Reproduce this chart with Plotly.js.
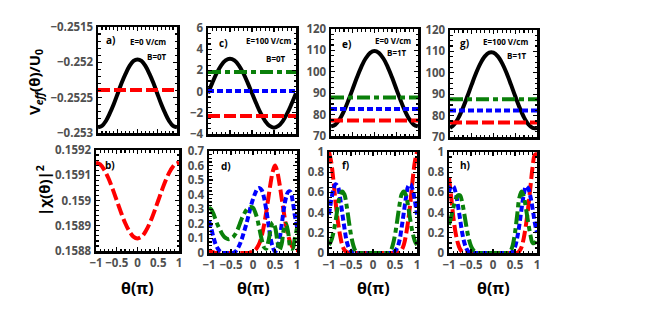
<!DOCTYPE html>
<html>
<head>
<meta charset="utf-8">
<script src="https://cdn.plot.ly/plotly-3.0.1.min.js"></script>
<style>html,body{margin:0;padding:0;background:#fff;}#chart{width:664px;height:311px;}</style>
</head>
<body>
<div id="chart"></div>
<script>
// ---------- DATA ----------
const theta10 = [-1,-0.9,-0.8,-0.7,-0.6,-0.5,-0.4,-0.3,-0.2,-0.1,0,0.1,0.2,0.3,0.4,0.5,0.6,0.7,0.8,0.9,1];
const theta05 = [-1,-0.95,-0.9,-0.85,-0.8,-0.75,-0.7,-0.65,-0.6,-0.55,-0.5,-0.45,-0.4,-0.35,-0.3,-0.25,-0.2,-0.15,-0.1,-0.05,0,0.05,0.1,0.15,0.2,0.25,0.3,0.35,0.4,0.45,0.5,0.55,0.6,0.65,0.7,0.75,0.8,0.85,0.9,0.95,1];
const thetaEnds = [-1, 1];

// a) E=0, B=0
const aPotential = [-0.25292,-0.25290,-0.25283,-0.25272,-0.25259,-0.25244,-0.25229,-0.25216,-0.25205,-0.25198,-0.25196,-0.25198,-0.25205,-0.25216,-0.25229,-0.25244,-0.25259,-0.25272,-0.25283,-0.25290,-0.25292];
const aLevelRed = [-0.25239,-0.25239];
// b)
const bRed = [0.15915,0.159143,0.159121,0.159088,0.159046,0.159,0.158954,0.158912,0.158879,0.158857,0.15885,0.158857,0.158879,0.158912,0.158954,0.159,0.159046,0.159088,0.159121,0.159143,0.15915];

// c) E=100, B=0
const cPotential = [-0.15,0.85,1.76,2.48,2.94,3.10,2.94,2.48,1.76,0.85,-0.15,-1.15,-2.06,-2.78,-3.24,-3.40,-3.24,-2.78,-2.06,-1.15,-0.15];
const cLevelGreen = [1.85,1.85];
const cLevelBlue = [0.05,0.05];
const cLevelRed = [-2.3,-2.3];
// d)
const dRed = [0.02,0.01,0.005,0,0,0,0,0,0,0,0,0,0,0,0,0,0,0,0,0.005,0.01,0.02,0.04,0.07,0.12,0.19,0.28,0.38,0.48,0.56,0.6,0.56,0.48,0.38,0.28,0.19,0.12,0.07,0.04,0.02,0.02];
const dBlue = [0.22,0.17,0.11,0.06,0.03,0.01,0,0,0,0,0,0,0.01,0.03,0.06,0.1,0.15,0.2,0.26,0.32,0.37,0.41,0.44,0.445,0.43,0.38,0.3,0.2,0.1,0.04,0.01,0.03,0.09,0.19,0.3,0.38,0.42,0.42,0.36,0.26,0.18];
const dGreen = [0.31,0.3,0.27,0.23,0.19,0.16,0.13,0.11,0.1,0.095,0.1,0.11,0.13,0.16,0.2,0.24,0.27,0.295,0.31,0.315,0.31,0.28,0.23,0.16,0.09,0.04,0.03,0.08,0.16,0.21,0.18,0.09,0.02,0.06,0.16,0.2,0.14,0.04,0.03,0.1,0.17];

// e) E=0, B=1T
const ePotential = [74.5,75.36,77.86,81.75,86.66,92.1,97.54,102.45,106.34,108.84,109.7,108.84,106.34,102.45,97.54,92.1,86.66,81.75,77.86,75.36,74.5];
const eLevelGreen = [88.0,88.0];
const eLevelBlue = [82.6,82.6];
const eLevelRed = [77.2,77.2];
// f)
const fRed = [1.0,0.9,0.72,0.5,0.32,0.18,0.08,0.03,0.01,0,0,0,0,0,0,0,0,0,0,0,0,0,0,0,0,0,0,0,0,0,0,0,0.01,0.03,0.08,0.18,0.32,0.5,0.72,0.9,1.0];
const fBlue = [0.38,0.52,0.63,0.68,0.66,0.55,0.4,0.25,0.12,0.05,0.02,0,0,0,0,0,0,0,0,0,0,0,0,0,0,0,0,0,0,0,0.02,0.05,0.12,0.25,0.4,0.55,0.66,0.68,0.63,0.52,0.38];
const fGreen = [0.08,0.12,0.2,0.32,0.46,0.57,0.61,0.58,0.47,0.32,0.18,0.08,0.02,0,0,0,0,0,0,0,0,0,0,0,0,0,0,0,0.02,0.08,0.18,0.32,0.47,0.58,0.61,0.57,0.46,0.32,0.2,0.12,0.08];

// g) E=100, B=1T
const gPotential = [74.21,75.94,79.22,83.72,89.02,94.58,99.88,104.38,107.66,109.39,109.39,107.66,104.38,99.88,94.58,89.02,83.72,79.22,75.94,74.21,74.21];
const gLevelGreen = [87.6,87.6];
const gLevelBlue = [82.4,82.4];
const gLevelRed = [76.8,76.8];
// h)
const hRed = [0.75,0.55,0.35,0.2,0.1,0.04,0.01,0,0,0,0,0,0,0,0,0,0,0,0,0,0,0,0,0,0,0,0,0,0,0,0,0,0.02,0.06,0.15,0.28,0.45,0.65,0.85,0.97,0.98];
const hBlue = [0.6,0.66,0.66,0.6,0.48,0.34,0.2,0.1,0.04,0.01,0,0,0,0,0,0,0,0,0,0,0,0,0,0,0,0,0,0,0,0.02,0.06,0.15,0.28,0.44,0.58,0.66,0.64,0.56,0.44,0.3,0.2];
const hGreen = [0.28,0.36,0.45,0.53,0.57,0.57,0.5,0.38,0.25,0.14,0.07,0.03,0.01,0,0,0,0,0,0,0,0,0,0,0,0,0,0,0,0.02,0.08,0.2,0.38,0.55,0.61,0.56,0.44,0.3,0.18,0.1,0.1,0.15];

// tick labels
const xTickVals = [-1,-0.5,0,0.5,1];
const xTickText = ['\u22121','\u22120.5','0','0.5','1'];
const aTickVals = [-0.253,-0.2525,-0.252,-0.2515];
const aTickText = ['\u22120.253','\u22120.2525','\u22120.252','\u22120.2515'];
const bTickVals = [0.1588,0.1589,0.159,0.1591,0.1592];
const bTickText = ['0.1588','0.1589','0.159','0.1591','0.1592'];
const cTickVals = [-4,-2,0,2,4,6];
const cTickText = ['\u22124','\u22122','0','2','4','6'];
const dTickVals = [0,0.1,0.2,0.3,0.4,0.5,0.6,0.7];
const dTickText = ['0','0.1','0.2','0.3','0.4','0.5','0.6','0.7'];
const egTickVals = [70,80,90,100,110,120];
const egTickText = ['70','80','90','100','110','120'];
const fhTickVals = [0,0.2,0.4,0.6,0.8,1];
const fhTickText = ['0','0.2','0.4','0.6','0.8','1'];

const panelLetters = ['a)','b)','c)','d)','e)','f)','g)','h)'];
const fieldE = ['E=0 V/cm','E=100 V/cm','E=0 V/cm','E=100 V/cm'];
const fieldB = ['B=0T','B=0T','B=1T','B=1T'];

// ---------- LAYOUT ----------
const W = 664, H = 311;
const RED = '#ff0000', BLUE = '#0000ff', GREEN = '#0a800a', BLACK = '#000000';
const dashRed = '12px,4px', dashBlue = '6px,3px', dashGreen = '13px,4px,5px,4px';
const LW = 4;

// pixel boxes [left, right, top, bottom]
const boxes = {
  a: [98,177,27,133], c: [208,296,28,134], e: [331,418,29,136], g: [450,537,30,137],
  b: [96,179,150,251], d: [209,297,151,253], f: [329,417,152,253], h: [449,537,152,253]
};
const order = ['a','b','c','d','e','f','g','h'];
const ax = {};
order.forEach((k,i) => { ax[k] = i === 0 ? '' : String(i+1); });

const tickFont = {family: 'Open Sans, sans-serif', size: 11.5, color: '#505050', weight: 'bold'};

const layout = {
  width: W, height: H,
  margin: {l:0, r:0, t:0, b:0},
  paper_bgcolor: '#fff', plot_bgcolor: '#fff',
  showlegend: false,
  annotations: [], shapes: []
};

const yCfg = {
  a: {range:[-0.253,-0.2515], tv:aTickVals, tt:aTickText, minor:0.0001},
  b: {range:[0.1588,0.1592], tv:bTickVals, tt:bTickText, minor:0.00002},
  c: {range:[-4,6], tv:cTickVals, tt:cTickText, minor:0.5},
  d: {range:[0,0.7], tv:dTickVals, tt:dTickText, minor:0.025},
  e: {range:[70,120], tv:egTickVals, tt:egTickText, minor:2.5},
  f: {range:[0,1], tv:fhTickVals, tt:fhTickText, minor:0.05},
  g: {range:[70,120], tv:egTickVals, tt:egTickText, minor:2.5},
  h: {range:[0,1], tv:fhTickVals, tt:fhTickText, minor:0.05}
};
const bottomRow = {b:1,d:1,f:1,h:1};

order.forEach(k => {
  const [l,r,t,b] = boxes[k];
  const s = ax[k];
  const common = {
    showline: true, linewidth: 2.5, linecolor: BLACK, mirror: 'allticks',
    ticks: 'inside', ticklen: 4, tickwidth: 1.3, tickcolor: BLACK,
    showgrid: false, zeroline: false, fixedrange: true,
    tickfont: tickFont, tickmode: 'array', tickangle: 0
  };
  layout['xaxis'+s] = Object.assign({}, common, {
    domain: [l/W, r/W], anchor: 'y'+s, range: [-1,1],
    tickvals: xTickVals, ticktext: xTickText,
    showticklabels: !!bottomRow[k],
    minor: {ticks:'inside', ticklen: 2.5, tickwidth: 1.2, tickcolor: BLACK, tickmode:'linear', tick0: -1, dtick: 0.1}
  });
  const yc = yCfg[k];
  layout['yaxis'+s] = Object.assign({}, common, {
    domain: [1-b/H, 1-t/H], anchor: 'x'+s, range: yc.range,
    tickvals: yc.tv, ticktext: yc.tt,
    minor: {ticks:'inside', ticklen: 2.5, tickwidth: 1.2, tickcolor: BLACK, tickmode:'linear', tick0: yc.range[0], dtick: yc.minor}
  });
});

function ann(text, px, py, size, opts) {
  layout.annotations.push(Object.assign({
    text: text, x: px/W, y: 1-py/H, xref:'paper', yref:'paper',
    xanchor:'center', yanchor:'middle', showarrow:false,
    font: {family:'Open Sans, sans-serif', size:size, color:'#000', weight:'bold'}
  }, opts||{}));
}

// panel letters
const letterPos = {a:[110,40], b:[110,165], c:[223,43], d:[226,166], e:[346,44], f:[345,165], g:[464,43], h:[465,165]};
order.forEach((k,i) => ann(panelLetters[i], letterPos[k][0], letterPos[k][1], 10));
// E/B texts
const ePos = [[148,42],[268,40],[393,40],[505,42]];
const bPos = [[157,57],[276,58],[397,53],[517,56]];
for (let i=0;i<4;i++){ ann(fieldE[i], ePos[i][0], ePos[i][1], 8); ann(fieldB[i], bPos[i][0], bPos[i][1], 8); }
// axis titles
ann('V<sub><i>eff</i></sub>(θ)/U<sub>0</sub>', 35, 82, 15, {textangle:-90});
ann('|χ(θ)|<sup>2</sup>', 43, 191, 15, {textangle:-90});
[['b',137],['d',253],['f',373],['h',493]].forEach(([k,cx]) => ann('θ(π)', cx, 288, 16));

// ---------- TRACES ----------
const traces = [];
function line(k, x, y, color, dash, shape) {
  traces.push({x:x, y:y, type:'scatter', mode:'lines', xaxis:'x'+ax[k], yaxis:'y'+ax[k],
    line:{color:color, width:LW, dash:dash, shape: shape||'spline', smoothing: 1}, hoverinfo:'skip'});
}
// a
line('a', theta10, aPotential, BLACK, 'solid');
line('a', thetaEnds, aLevelRed, RED, dashRed, 'linear');
// b
line('b', theta10, bRed, RED, dashRed);
// c
line('c', theta10, cPotential, BLACK, 'solid');
line('c', thetaEnds, cLevelGreen, GREEN, dashGreen, 'linear');
line('c', thetaEnds, cLevelBlue, BLUE, dashBlue, 'linear');
line('c', thetaEnds, cLevelRed, RED, dashRed, 'linear');
// d
line('d', theta05, dRed, RED, dashRed);
line('d', theta05, dBlue, BLUE, dashBlue);
line('d', theta05, dGreen, GREEN, dashGreen);
// e
line('e', theta10, ePotential, BLACK, 'solid');
line('e', thetaEnds, eLevelGreen, GREEN, dashGreen, 'linear');
line('e', thetaEnds, eLevelBlue, BLUE, dashBlue, 'linear');
line('e', thetaEnds, eLevelRed, RED, dashRed, 'linear');
// f
line('f', theta05, fRed, RED, dashRed);
line('f', theta05, fBlue, BLUE, dashBlue);
line('f', theta05, fGreen, GREEN, dashGreen);
// g
line('g', theta10, gPotential, BLACK, 'solid');
line('g', thetaEnds, gLevelGreen, GREEN, dashGreen, 'linear');
line('g', thetaEnds, gLevelBlue, BLUE, dashBlue, 'linear');
line('g', thetaEnds, gLevelRed, RED, dashRed, 'linear');
// h
line('h', theta05, hRed, RED, dashRed);
line('h', theta05, hBlue, BLUE, dashBlue);
line('h', theta05, hGreen, GREEN, dashGreen);

Plotly.newPlot('chart', traces, layout, {displayModeBar:false, staticPlot:true});
</script>
</body>
</html>
